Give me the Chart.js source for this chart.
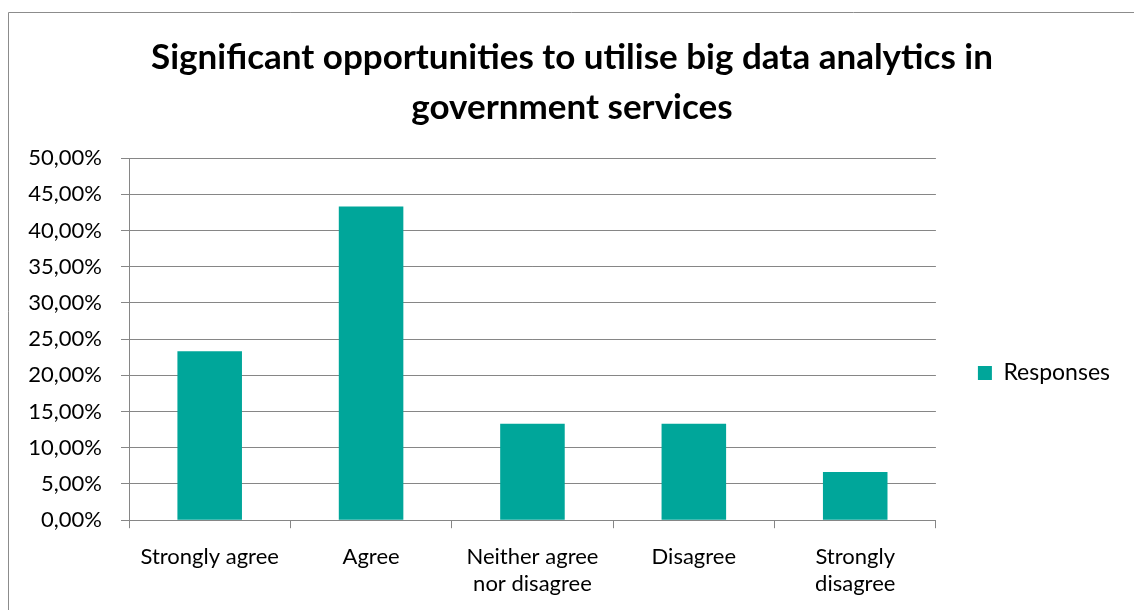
<!DOCTYPE html>
<html>
<head>
<meta charset="utf-8">
<title>Big data analytics in government services</title>
<script src="https://cdn.jsdelivr.net/npm/chart.js@4.4.1/dist/chart.umd.min.js"></script>
<style>
  html, body { margin: 0; padding: 0; background: #fff; }
  #wrap { position: relative; width: 1134px; height: 610px; }
</style>
</head>
<body>
<div id="wrap"><canvas id="responsesChart"></canvas></div>
<script>
// Survey answers
const categories = ['Strongly agree', 'Agree', ['Neither agree', 'nor disagree'], 'Disagree', ['Strongly', 'disagree']];
const responses = [23.33, 43.33, 13.33, 13.33, 6.67];
const seriesName = 'Responses';
const yTicks = { min: 0, max: 50, step: 5 };

const teal = '#00a69a';
const lineGray = '#868686';
const fontFamily = 'Lato, "Open Sans", sans-serif';

// thin frame round the chart, open to the right and bottom
const framePlugin = {
    id: 'frame',
    beforeDraw(chart) {
        const ctx = chart.ctx;
        ctx.save();
        ctx.strokeStyle = '#8c8c8c';
        ctx.lineWidth = 1;
        ctx.beginPath();
        ctx.moveTo(8.5, chart.height + 5);
        ctx.lineTo(8.5, 12.5);
        ctx.lineTo(chart.width + 5, 12.5);
        ctx.stroke();
        ctx.restore();
    }
};

// sit the legend level with the middle of the plot and axis labels
const legendMiddle = {
    id: 'legendMiddle',
    afterLayout(chart) {
        const lg = chart.legend;
        if (!lg) return;
        const mid = 373;
        const half = (lg.bottom - lg.top) / 2;
        lg.top = mid - half;
        lg.bottom = mid + half;
    }
};

const ctx = document.getElementById('responsesChart').getContext('2d');
new Chart(ctx, {
    type: 'bar',
    data: {
        labels: categories,
        datasets: [{
            label: seriesName,
            data: responses,
            backgroundColor: teal,
            borderWidth: 0,
            barPercentage: 0.4,
            categoryPercentage: 1
        }]
    },
    options: {
        responsive: true,
        maintainAspectRatio: false,
        animation: false,
        layout: { padding: { top: 12, left: 24, right: 14, bottom: -3 } },
        plugins: {
            title: {
                display: true,
                text: ['Significant opportunities to utilise big data analytics in', 'government services'],
                color: '#000',
                font: { family: fontFamily, size: 35, weight: 'bold', lineHeight: 1.43 },
                padding: { top: 21, bottom: 25 }
            },
            legend: {
                position: 'right',
                labels: {
                    boxWidth: 14,
                    boxHeight: 14,
                    padding: 42,
                    color: '#000',
                    font: { family: fontFamily, size: 23 }
                }
            },
            tooltip: { enabled: false }
        },
        scales: {
            x: {
                grid: {
                    offset: true,
                    drawOnChartArea: false,
                    drawTicks: true,
                    tickLength: 8,
                    color: lineGray
                },
                border: { display: true, color: lineGray },
                ticks: {
                    color: '#000',
                    padding: 16,
                    maxRotation: 0,
                    autoSkip: false,
                    font: { family: fontFamily, size: 22, lineHeight: 1.2 }
                }
            },
            y: {
                min: yTicks.min,
                max: yTicks.max,
                afterFit(scale) { scale.width = 105; },
                grid: {
                    color: lineGray,
                    tickLength: 8
                },
                border: { display: true, color: lineGray },
                ticks: {
                    stepSize: yTicks.step,
                    color: '#000',
                    padding: 19,
                    font: { family: fontFamily, size: 22 },
                    callback: v => v.toFixed(2).replace('.', ',') + '%'
                }
            }
        }
    },
    plugins: [framePlugin, legendMiddle]
});
</script>
</body>
</html>
